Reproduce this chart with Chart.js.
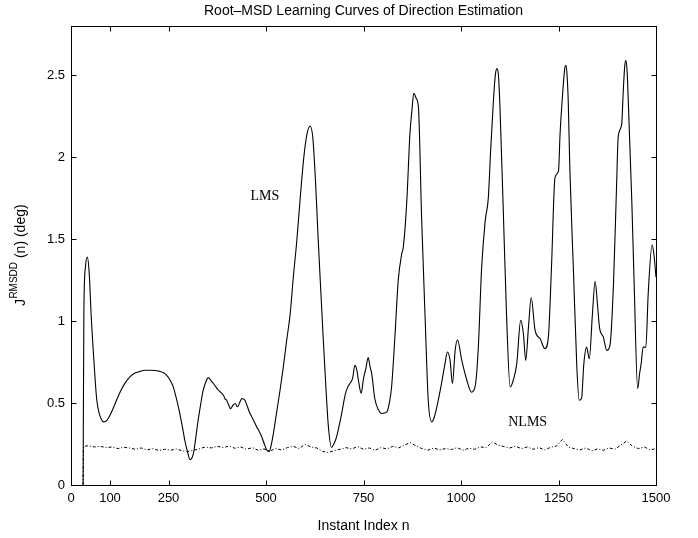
<!DOCTYPE html>
<html>
<head>
<meta charset="utf-8">
<script src="https://cdn.jsdelivr.net/npm/chart.js@4/dist/chart.umd.min.js"></script>
<style>
  html, body { margin: 0; padding: 0; background: #fff; }
  #chart { display: block; }
</style>
</head>
<body>
<canvas id="chart" width="698" height="538"></canvas>
<script>
// tick values used on the axes
const xTicks = [0, 100, 250, 500, 750, 1000, 1250, 1500]
const yTicks = [0, 0.5, 1, 1.5, 2, 2.5]

// LMS learning curve
const lmsN = [31,33,37,42,47,52,57,62,66,72,78,83,90,100,112,126,138,151,164,177,190,203,216,228,237,245,254,262,270,279,286,292,299,305,310,314,320,326,333,339,346,352,358,365,371,378,384,391,395,399,404,409,415,421,427,432,438,446,452,459,467,476,482,489,495,502,508,513,519,527,536,545,553,562,570,579,588,597,605,613,620,627,634,641,647,654,660,668,674,681,694,703,710,715,722,728,733,737,744,750,756,762,767,771,779,788,797,810,817,822,831,839,848,852,861,869,874,879,885,891,899,908,916,925,931,938,950,959,965,972,978,985,991,1002,1015,1027,1036,1044,1053,1062,1070,1076,1083,1088,1092,1096,1100,1109,1117,1126,1134,1143,1153,1160,1166,1173,1180,1190,1203,1215,1224,1232,1241,1250,1254,1261,1266,1269,1272,1275,1279,1288,1297,1303,1309,1315,1322,1329,1337,1344,1350,1355,1365,1374,1382,1391,1399,1403,1412,1416,1420,1423,1426,1429,1438,1444,1453,1458,1462,1467,1474,1480,1490,1495,1500]
const lmsJ = [0,1.05,1.33,1.39,1.28,1.02,0.82,0.64,0.52,0.44,0.40,0.385,0.39,0.426,0.49,0.567,0.62,0.66,0.683,0.693,0.70,0.70,0.698,0.693,0.685,0.67,0.64,0.60,0.53,0.436,0.35,0.27,0.20,0.155,0.165,0.193,0.29,0.395,0.50,0.578,0.63,0.655,0.64,0.619,0.60,0.578,0.565,0.547,0.525,0.517,0.49,0.466,0.485,0.497,0.477,0.50,0.527,0.517,0.48,0.436,0.40,0.355,0.33,0.294,0.255,0.213,0.203,0.24,0.315,0.44,0.578,0.73,0.882,1.044,1.267,1.49,1.76,2.0,2.14,2.19,2.12,1.85,1.49,1.16,0.882,0.58,0.355,0.229,0.25,0.294,0.436,0.55,0.60,0.619,0.65,0.73,0.70,0.639,0.56,0.649,0.71,0.777,0.72,0.679,0.527,0.46,0.436,0.446,0.51,0.598,0.923,1.247,1.41,1.45,1.73,2.14,2.28,2.39,2.36,2.30,1.63,1.02,0.517,0.385,0.41,0.476,0.619,0.74,0.811,0.76,0.619,0.821,0.886,0.76,0.639,0.566,0.598,0.821,1.328,1.61,1.75,2.04,2.34,2.50,2.54,2.50,2.30,1.63,1.02,0.598,0.639,0.74,1.004,0.923,0.76,0.963,1.142,0.943,0.892,0.831,0.902,1.328,1.875,1.916,2.14,2.40,2.54,2.56,2.50,2.34,1.936,1.328,0.72,0.517,0.527,0.74,0.841,0.77,1.044,1.243,1.10,0.963,0.902,0.821,0.852,1.227,1.835,2.12,2.20,2.40,2.56,2.59,2.52,2.34,1.73,1.227,0.588,0.68,0.74,0.841,0.841,1.166,1.466,1.40,1.267]

// NLMS learning curve
const nlmsN = [31,32,45,60,75,90,105,120,135,150,165,180,195,210,225,240,255,270,285,300,315,330,345,360,375,390,405,420,435,450,465,480,495,510,525,540,555,570,585,600,615,630,645,660,675,690,705,720,735,750,765,780,795,810,825,840,855,870,885,900,915,930,945,960,975,990,1005,1020,1035,1050,1065,1080,1095,1110,1125,1140,1155,1170,1185,1200,1215,1230,1245,1260,1275,1290,1305,1320,1335,1350,1365,1380,1395,1410,1425,1440,1455,1470,1485,1500]
const nlmsJ = [0,0.235,0.24,0.232,0.236,0.228,0.232,0.222,0.23,0.226,0.218,0.226,0.214,0.222,0.21,0.218,0.212,0.22,0.208,0.205,0.212,0.222,0.232,0.226,0.236,0.228,0.238,0.224,0.232,0.218,0.228,0.212,0.22,0.208,0.222,0.214,0.228,0.236,0.222,0.248,0.232,0.226,0.205,0.198,0.21,0.218,0.228,0.22,0.234,0.218,0.226,0.212,0.228,0.22,0.236,0.226,0.244,0.258,0.238,0.222,0.212,0.226,0.214,0.222,0.216,0.228,0.212,0.224,0.218,0.232,0.228,0.262,0.244,0.234,0.226,0.236,0.222,0.232,0.218,0.228,0.214,0.23,0.238,0.278,0.232,0.222,0.214,0.226,0.208,0.22,0.212,0.226,0.218,0.244,0.268,0.236,0.222,0.232,0.214,0.222]

// text labels inside the plot, in data units
const curveLabels = [
  { text: 'LMS', n: 497, j: 1.76 },
  { text: 'NLMS', n: 1171, j: 0.38 }
]

const chartTitle = 'Root\u2013MSD Learning Curves of Direction Estimation'

const toPoints = (xs, ys) => xs.map((x, i) => ({ x: x, y: ys[i] }))

const sans = "'Liberation Sans', Arial, sans-serif"

// frame, inward ticks, titles and curve labels
const framePlugin = {
  id: 'frame',
  afterDraw(chart) {
    const ctx = chart.ctx
    const a = chart.chartArea
    const xs = chart.scales.x
    const ys = chart.scales.y
    const L = Math.round(a.left) + 0.5, R = Math.round(a.right) + 0.5
    const T = Math.round(a.top) + 0.5, B = Math.round(a.bottom) + 0.5
    ctx.save()
    ctx.strokeStyle = '#000'
    ctx.lineWidth = 1
    ctx.strokeRect(L, T, R - L, B - T)
    ctx.beginPath()
    xTicks.forEach(v => {
      const px = Math.round(xs.getPixelForValue(v)) + 0.5
      ctx.moveTo(px, B); ctx.lineTo(px, B - 5)
      ctx.moveTo(px, T); ctx.lineTo(px, T + 5)
    })
    yTicks.forEach(v => {
      const py = Math.round(ys.getPixelForValue(v)) + 0.5
      ctx.moveTo(L, py); ctx.lineTo(L + 5, py)
      ctx.moveTo(R, py); ctx.lineTo(R - 5, py)
    })
    ctx.stroke()

    // title centred over the axes
    ctx.fillStyle = '#000'
    ctx.font = '14px ' + sans
    ctx.textAlign = 'center'
    ctx.textBaseline = 'middle'
    ctx.fillText(chartTitle, (a.left + a.right) / 2, 11)

    // y axis title with superscript
    const main = '14px ' + sans
    const sup = '10px ' + sans
    ctx.font = main
    const w1 = ctx.measureText('J').width
    const w3 = ctx.measureText(' (n) (deg)').width
    ctx.font = sup
    const w2 = ctx.measureText('RMSDD').width
    const total = w1 + w2 + w3
    ctx.translate(25, (a.top + a.bottom) / 2)
    ctx.rotate(-Math.PI / 2)
    ctx.textBaseline = 'alphabetic'
    ctx.textAlign = 'left'
    let x0 = -total / 2
    ctx.font = main
    ctx.fillText('J', x0, 0)
    ctx.font = sup
    ctx.fillText('RMSDD', x0 + w1 + 0.5, -8)
    ctx.font = main
    ctx.fillText(' (n) (deg)', x0 + w1 + w2 + 0.5, 0)
    ctx.restore()

    ctx.save()
    ctx.fillStyle = '#000'
    ctx.font = "14px 'Liberation Serif', 'Times New Roman', serif"
    ctx.textAlign = 'center'
    ctx.textBaseline = 'middle'
    curveLabels.forEach(l => {
      ctx.fillText(l.text, xs.getPixelForValue(l.n), ys.getPixelForValue(l.j))
    })
    ctx.restore()
  }
}

new Chart(document.getElementById('chart'), {
  type: 'line',
  data: {
    datasets: [{
      label: 'LMS',
      data: toPoints(lmsN, lmsJ),
      borderColor: '#000',
      borderWidth: 1.1,
      pointRadius: 0,
      cubicInterpolationMode: 'monotone'
    }, {
      label: 'NLMS',
      data: toPoints(nlmsN, nlmsJ),
      borderColor: '#000',
      borderWidth: 1,
      borderDash: [3, 2, 1, 2],
      pointRadius: 0,
      tension: 0
    }]
  },
  options: {
    responsive: false,
    animation: false,
    devicePixelRatio: 1,
    layout: { padding: { left: 0, right: 42, top: 26, bottom: 0 } },
    plugins: {
      legend: { display: false },
      tooltip: { enabled: false },
      title: { display: false }
    },
    scales: {
      x: {
        type: 'linear',
        min: 0,
        max: 1500,
        grid: { display: false, drawTicks: false },
        border: { display: false },
        afterBuildTicks: s => { s.ticks = xTicks.map(v => ({ value: v })) },
        afterFit: s => { s.height = 53 },
        ticks: {
          color: '#000',
          font: { family: sans, size: 13 },
          padding: 6,
          maxRotation: 0,
          autoSkip: false,
          callback: v => String(v)
        },
        title: {
          display: true,
          text: 'Instant Index n',
          color: '#000',
          font: { family: sans, size: 14 },
          padding: { top: 0, bottom: 3 }
        }
      },
      y: {
        min: 0,
        max: 2.8,
        grid: { display: false, drawTicks: false },
        border: { display: false },
        afterBuildTicks: s => { s.ticks = yTicks.map(v => ({ value: v })) },
        afterFit: s => { s.width = 71 },
        ticks: {
          color: '#000',
          font: { family: sans, size: 13 },
          padding: 6,
          autoSkip: false,
          callback: v => String(v)
        }
      }
    }
  },
  plugins: [framePlugin]
})
</script>
</body>
</html>
